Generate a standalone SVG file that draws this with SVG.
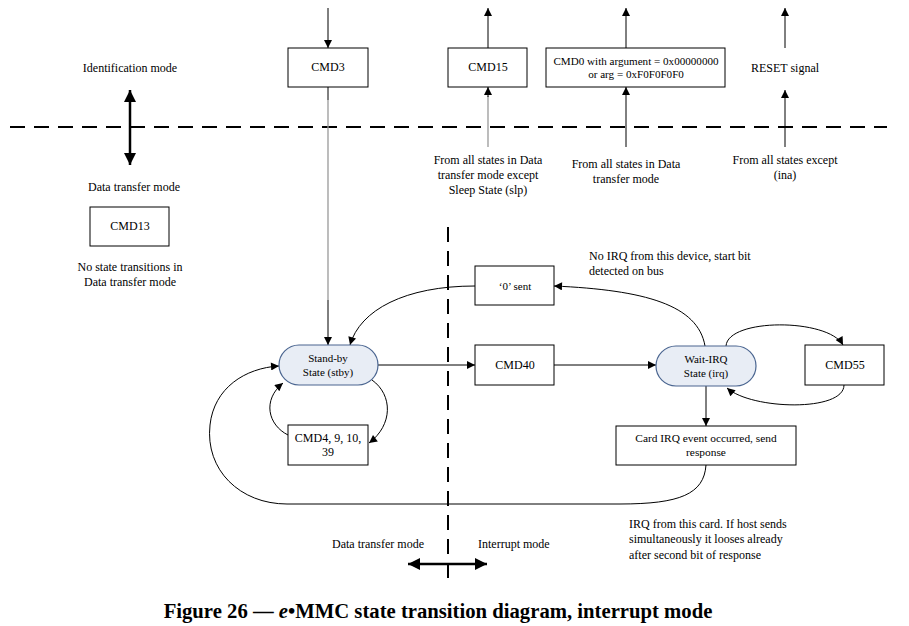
<svg xmlns="http://www.w3.org/2000/svg" width="909" height="626" viewBox="0 0 909 626">
<style>
text{font-family:"Liberation Serif","Times New Roman",serif;font-size:12px;fill:#000}
.c{text-anchor:middle}
.box{fill:#fff;stroke:#000;stroke-width:1}
.pill{fill:#e8edf5;stroke:#4a6590;stroke-width:1.2}
.ln{fill:none;stroke:#000;stroke-width:1}
.gray{fill:none;stroke:#999;stroke-width:1.3}
.dash{fill:none;stroke:#000;stroke-width:2;stroke-dasharray:15 9}
.thick{fill:none;stroke:#000;stroke-width:2.5}
text.title{font-size:20.7px;font-weight:bold}
text.sm{font-size:11px}
text.xs{font-size:11.1px}
text.card{font-size:11.4px}
</style>
<defs>
<marker id="ah" viewBox="0 0 10 10" refX="10" refY="5" markerWidth="10" markerHeight="8" markerUnits="userSpaceOnUse" orient="auto">
<path d="M0,0 L10,5 L0,10 z" fill="#000"/>
</marker>
<marker id="big" viewBox="0 0 10 10" refX="10" refY="5" markerWidth="13" markerHeight="12" markerUnits="userSpaceOnUse" orient="auto-start-reverse">
<path d="M0,0 L10,5 L0,10 z" fill="#000"/>
</marker>
</defs>
<rect width="909" height="626" fill="#fff"/>

<g id="separators">
<line class="dash" x1="10" y1="127" x2="887" y2="127"/>
<line class="dash" x1="448" y1="227" x2="448" y2="582"/>
<line class="thick" x1="130" y1="90" x2="130" y2="165" marker-start="url(#big)" marker-end="url(#big)"/>
<line class="thick" x1="408" y1="564" x2="487" y2="564" marker-start="url(#big)" marker-end="url(#big)"/>
</g>

<g id="connectors">
<line class="ln" x1="328" y1="8" x2="328" y2="48" marker-end="url(#ah)"/>
<line class="ln" x1="328" y1="87" x2="328" y2="100"/>
<line class="gray" x1="328" y1="100" x2="328" y2="300"/>
<line class="ln" x1="328" y1="300" x2="328" y2="345" marker-end="url(#ah)"/>
<line class="ln" x1="488" y1="48" x2="488" y2="8" marker-end="url(#ah)"/>
<line class="gray" x1="488" y1="147" x2="488" y2="96"/>
<line class="ln" x1="488" y1="97" x2="488" y2="87" marker-end="url(#ah)"/>
<line class="ln" x1="626" y1="48" x2="626" y2="8" marker-end="url(#ah)"/>
<line class="ln" x1="626" y1="147" x2="626" y2="87" marker-end="url(#ah)"/>
<line class="ln" x1="785" y1="48" x2="785" y2="8" marker-end="url(#ah)"/>
<line class="ln" x1="785" y1="147" x2="785" y2="90" marker-end="url(#ah)"/>
<path class="ln" d="M475,286 C405,286 360,310 350,345" marker-end="url(#ah)"/>
<path class="ln" d="M705,346 C698,305 645,290 554,286" marker-end="url(#ah)"/>
<line class="ln" x1="378" y1="365" x2="475" y2="365" marker-end="url(#ah)"/>
<line class="ln" x1="554" y1="365" x2="656" y2="365" marker-end="url(#ah)"/>
<path class="ln" d="M726,346 C728,318 828,318 843,345" marker-end="url(#ah)"/>
<path class="ln" d="M844,385 C844,412 752,410 727,388" marker-end="url(#ah)"/>
<line class="ln" x1="706" y1="386" x2="706" y2="426" marker-end="url(#ah)"/>
<path class="ln" d="M706,465 C704,494 680,504 620,504 L287,504 C240,504 205,470 210,425 C214,388 245,368 279,366" marker-end="url(#ah)"/>
<path class="ln" d="M288,435 C268,425 262,400 283,383" marker-end="url(#ah)"/>
<path class="ln" d="M372,380 C393,395 393,425 369,443" marker-end="url(#ah)"/>
</g>

<g id="labels">
<text class="c" x="130" y="72">Identification mode</text>
<text class="c" x="134" y="191">Data transfer mode</text>
<text class="c" x="130" y="271">No state transitions in</text>
<text class="c" x="130" y="286">Data transfer mode</text>
<text class="c" x="488" y="164">From all states in Data</text>
<text class="c" x="488" y="179">transfer mode except</text>
<text class="c" x="488" y="194">Sleep State (slp)</text>
<text class="c" x="626" y="168">From all states in Data</text>
<text class="c" x="626" y="183">transfer mode</text>
<text class="c" x="785" y="72">RESET signal</text>
<text class="c" x="785" y="164">From all states except</text>
<text class="c" x="785" y="179">(ina)</text>
<text x="589" y="260">No IRQ from this device, start bit</text>
<text x="589" y="275">detected on bus</text>
<text x="629" y="528">IRQ from this card. If host sends</text>
<text x="629" y="543">simultaneously it looses already</text>
<text x="629" y="559">after second bit of response</text>
<text class="c" x="378" y="548">Data transfer mode</text>
<text x="478" y="548">Interrupt mode</text>
<text class="c title" x="438" y="618">Figure 26 — <tspan font-style="italic">e</tspan>•MMC state transition diagram, interrupt mode</text>
</g>

<g id="cmd3"><rect class="box" x="288" y="48" width="80" height="39"/><text class="c" x="328" y="71">CMD3</text></g>
<g id="cmd13"><rect class="box" x="90" y="207" width="79" height="39"/><text class="c" x="130" y="230">CMD13</text></g>
<g id="cmd15"><rect class="box" x="448" y="48" width="79" height="39"/><text class="c" x="488" y="71">CMD15</text></g>
<g id="cmd0"><rect class="box" x="546" y="48" width="179" height="39"/><text class="c xs" x="636" y="65">CMD0 with argument = 0x00000000</text><text class="c xs" x="636" y="78">or arg = 0xF0F0F0F0</text></g>
<g id="sent0"><rect class="box" x="475" y="266" width="79" height="39"/><text class="c sm" x="515" y="290">‘0’ sent</text></g>
<g id="standby"><rect class="pill" x="279" y="345" width="99" height="40" rx="20"/><text class="c sm" x="328" y="362">Stand-by</text><text class="c sm" x="328" y="376">State (stby)</text></g>
<g id="cmd40"><rect class="box" x="475" y="345" width="79" height="40"/><text class="c" x="515" y="369">CMD40</text></g>
<g id="waitirq"><rect class="pill" x="656" y="346" width="100" height="40" rx="20"/><text class="c sm" x="706" y="363">Wait-IRQ</text><text class="c sm" x="706" y="377">State (irq)</text></g>
<g id="cmd55"><rect class="box" x="805" y="345" width="79" height="40"/><text class="c" x="845" y="369">CMD55</text></g>
<g id="cardirq"><rect class="box" x="616" y="426" width="180" height="39"/><text class="c card" x="706" y="442">Card IRQ event occurred, send</text><text class="c card" x="706" y="456">response</text></g>
<g id="cmd4"><rect class="box" x="288" y="425" width="80" height="40"/><text class="c" x="328" y="442">CMD4, 9, 10,</text><text class="c" x="328" y="456">39</text></g>
</svg>
